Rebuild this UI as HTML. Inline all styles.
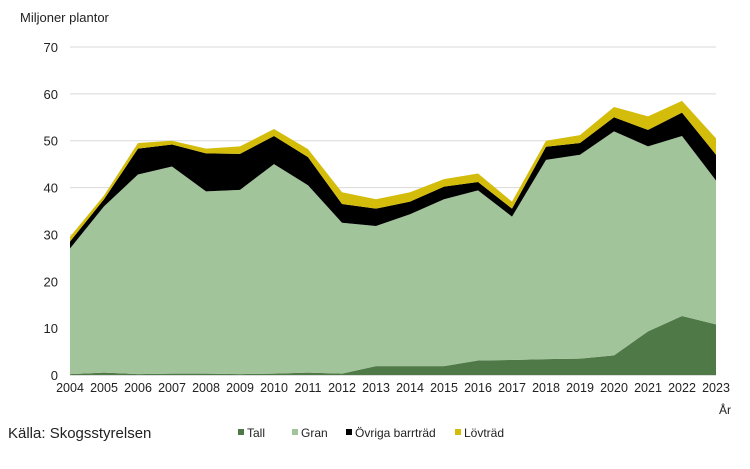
<!DOCTYPE html>
<html><head><meta charset="utf-8"><style>
body{margin:0;background:#fff;}
svg text{font-family:"Liberation Sans Narrow","Liberation Sans",sans-serif;fill:#222;}
</style></head><body>
<svg id="chart" width="750" height="464">
<text x="20" y="22" font-size="13">Miljoner plantor</text>
<g id="grid"></g><g id="areas"></g><g id="xt"></g>
<text x="719" y="414" font-size="12">År</text>
<text x="8" y="438" font-size="15">Källa: Skogsstyrelsen</text>
<g id="legend"></g>
</svg>
<script>
const years=[2004,2005,2006,2007,2008,2009,2010,2011,2012,2013,2014,2015,2016,2017,2018,2019,2020,2021,2022,2023];
const tall=[0.2,0.5,0.2,0.3,0.3,0.2,0.3,0.5,0.3,1.9,1.9,1.9,3.1,3.2,3.4,3.5,4.2,9.3,12.6,10.8];
const gran=[26.8,35.5,42.6,44.2,38.9,39.3,44.7,40,32.2,29.9,32.4,35.6,36.3,30.6,42.5,43.5,47.8,39.5,38.4,30.7];
const ovriga=[1.5,1.5,5.5,4.7,8.1,7.7,6,6,4,3.7,2.7,2.7,1.8,1.7,2.8,2.5,3,3.5,5,5.5];
const lov=[1,0.8,1.2,0.8,1,1.6,1.5,1.7,2.5,2,2,1.6,1.8,1.5,1.3,1.7,2.2,2.9,2.5,3.5];
const yTicks=[0,10,20,30,40,50,60,70];
const seriesNames=["Tall","Gran","Övriga barrträd","Lövträd"];
const colors=["#4f7a48","#a2c49a","#000000","#d4bc0a"];
const NS="http://www.w3.org/2000/svg";
const x0=70,x1=716,y0=375,y1=47;
const xs=i=>x0+(x1-x0)*i/(years.length-1);
const ys=v=>y0-(y0-y1)*v/70;
function mk(t,a,p){const e=document.createElementNS(NS,t);for(const k in a)e.setAttribute(k,a[k]);p.appendChild(e);return e;}
const grid=document.getElementById('grid');
yTicks.forEach(v=>{
  const l=mk('line',{x1:x0,x2:x1,y1:ys(v),y2:ys(v),stroke:v?'#d9d9d9':'#bbb','stroke-width':1},grid);
  
  
  const t=mk('text',{x:58,y:ys(v)+5,'font-size':13,'text-anchor':'end'},grid);
  t.textContent=v;
  
  
});
const data=[tall,gran,ovriga,lov];
let base=years.map(()=>0);
const areas=document.getElementById('areas');
data.forEach((s,k)=>{
  const top=base.map((b,i)=>b+s[i]);
  let d='M'+years.map((_,i)=>xs(i)+','+ys(top[i])).join(' L');
  for(let i=years.length-1;i>=0;i--)d+=' L'+xs(i)+','+ys(base[i]);
  const p=mk('path',{d:d+'Z',fill:colors[k]},areas);
  
  
  base=top;
});
const xt=document.getElementById('xt');
years.forEach((y,i)=>{
  const t=mk('text',{x:xs(i),y:392,'font-size':12.5,'text-anchor':'middle'},xt);
  t.textContent=y;
  
  
});
const lg=document.getElementById('legend');
const lx=[238,292,346,455];
seriesNames.forEach((n,k)=>{
  const g=mk('g',{},lg);
  
  
  mk('rect',{x:lx[k],y:429,width:6,height:6,fill:colors[k]},g);
  const t=mk('text',{x:lx[k]+9,y:437,'font-size':12},g);
  t.textContent=n;
});
</script>
</body></html>
